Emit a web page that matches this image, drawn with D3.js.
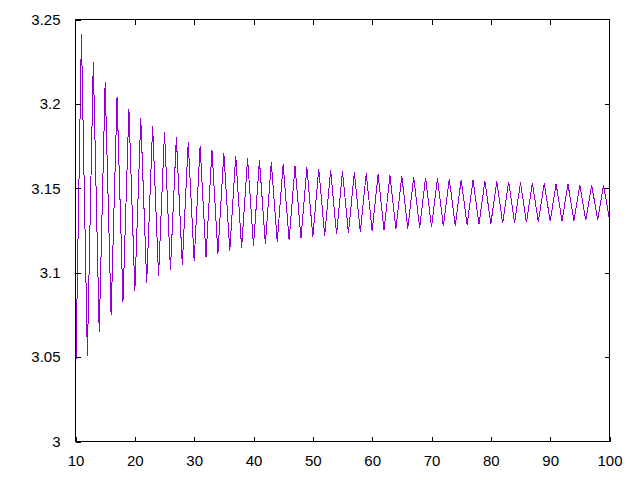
<!DOCTYPE html>
<html>
<head>
<meta charset="utf-8">
<script src="https://cdn.jsdelivr.net/npm/d3@7/dist/d3.min.js"></script>
<style>
  html, body { margin: 0; padding: 0; background: #fff; }
  svg { display: block; }
  text { font-family: "Liberation Sans", Arial, sans-serif; font-size: 15px; fill: #000; }
</style>
</head>
<body>
<svg id="chart" width="640" height="480"></svg>
<script>
// ---- data ----
const xStart = 10, xEnd = 100;
const seriesValues = [
  3.0305, 3.2416, 3.0507, 3.2249, 3.0647, 3.2130, 3.0749, 3.2041, 3.0828, 3.1972,
  3.0890, 3.1916, 3.0940, 3.1870, 3.0981, 3.1833, 3.1016, 3.1801, 3.1046, 3.1773,
  3.1071, 3.1749, 3.1093, 3.1728, 3.1113, 3.1710, 3.1130, 3.1694, 3.1146, 3.1679,
  3.1160, 3.1666, 3.1172, 3.1654, 3.1183, 3.1643, 3.1194, 3.1633, 3.1203, 3.1624,
  3.1212, 3.1616, 3.1220, 3.1608, 3.1227, 3.1601, 3.1234, 3.1595, 3.1241, 3.1588,
  3.1246, 3.1583, 3.1252, 3.1577, 3.1257, 3.1572, 3.1262, 3.1567, 3.1267, 3.1563,
  3.1271, 3.1559, 3.1275, 3.1555, 3.1279, 3.1551, 3.1283, 3.1548, 3.1286, 3.1544,
  3.1289, 3.1541, 3.1292, 3.1538, 3.1295, 3.1535, 3.1298, 3.1532, 3.1301, 3.1530,
  3.1304, 3.1527, 3.1306, 3.1525, 3.1308, 3.1522, 3.1311, 3.1520, 3.1313, 3.1518,
  3.1315
];
const xTicks = [10, 20, 30, 40, 50, 60, 70, 80, 90, 100];
const yTicks = [3, 3.05, 3.1, 3.15, 3.2, 3.25];
const yTickLabels = ["3", "3.05", "3.1", "3.15", "3.2", "3.25"];

// ---- layout ----
const plotLeft = 75.5, plotRight = 609.5, plotTop = 19.5, plotBottom = 441.5;
const svg = d3.select("#chart");

const x = d3.scaleLinear().domain([xStart, xEnd]).range([plotLeft, plotRight]);
const y = d3.scaleLinear().domain([3, 3.25]).range([plotBottom, plotTop]);

const points = seriesValues.map((v, i) => ({ x: xStart + i, y: v }));

// clip
svg.append("defs").append("clipPath").attr("id", "clip")
  .append("rect").attr("x", plotLeft).attr("y", plotTop)
  .attr("width", plotRight - plotLeft).attr("height", plotBottom - plotTop);

// data line
const line = d3.line().x(d => x(d.x)).y(d => y(d.y));
svg.append("path")
  .datum(points)
  .attr("clip-path", "url(#clip)")
  .attr("d", line)
  .attr("fill", "none")
  .attr("stroke", "#9400D3")
  .attr("stroke-width", 1)
  .attr("shape-rendering", "crispEdges");

// axes (gnuplot style: inward ticks mirrored)
const tickLen = 5;
const axisStyle = g => {
  g.select(".domain").remove();
  g.selectAll(".tick line").attr("stroke", "#000").attr("shape-rendering", "crispEdges");
  g.selectAll(".tick text").style("font-family", "'Liberation Sans', Arial, sans-serif").style("font-size", "15px").attr("fill", "#000");
};

svg.append("g").attr("transform", `translate(0,${plotBottom})`)
  .call(d3.axisBottom(x).tickValues(xTicks).tickSizeInner(-tickLen).tickSizeOuter(0).tickPadding(13.5).tickFormat(d3.format("d")))
  .call(axisStyle);
svg.append("g").attr("transform", `translate(0,${plotTop})`)
  .call(d3.axisTop(x).tickValues(xTicks.slice(1, -1)).tickSizeInner(-tickLen).tickSizeOuter(0).tickFormat(""))
  .call(axisStyle);
svg.append("g").attr("transform", `translate(${plotLeft},0)`)
  .call(d3.axisLeft(y).tickValues(yTicks).tickSizeInner(-tickLen).tickSizeOuter(0).tickPadding(15)
    .tickFormat((d, i) => yTickLabels[i]))
  .call(axisStyle);
svg.append("g").attr("transform", `translate(${plotRight},0)`)
  .call(d3.axisRight(y).tickValues(yTicks.slice(1, -1)).tickSizeInner(-tickLen).tickSizeOuter(0).tickFormat(""))
  .call(axisStyle);

// frame
svg.append("rect")
  .attr("x", plotLeft).attr("y", plotTop)
  .attr("width", plotRight - plotLeft).attr("height", plotBottom - plotTop)
  .attr("fill", "none").attr("stroke", "#000").attr("stroke-width", 1)
  .attr("shape-rendering", "crispEdges");
</script>
</body>
</html>
